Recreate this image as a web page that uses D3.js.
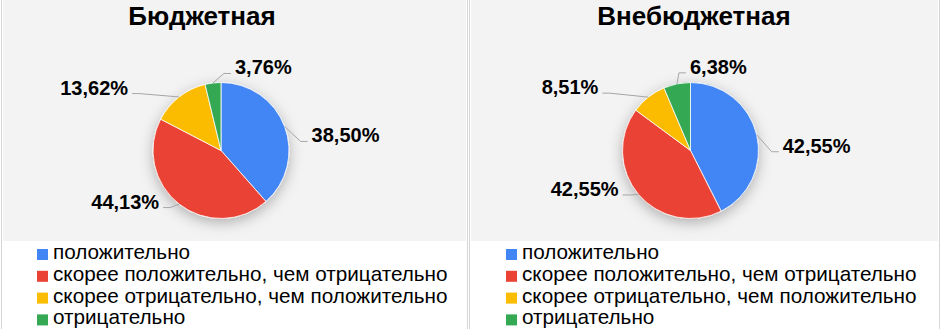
<!DOCTYPE html>
<html>
<head>
<meta charset="utf-8">
<script src="https://cdn.jsdelivr.net/npm/d3@7"></script>
<style>
  html, body { margin: 0; padding: 0; background: #ffffff; }
  svg { display: block; font-family: "Liberation Sans", Arial, sans-serif; }
</style>
</head>
<body>
<svg id="chart" width="941" height="329"></svg>
<script>
// ---- data ----
const categories = [
  "положительно",
  "скорее положительно, чем отрицательно",
  "скорее отрицательно, чем положительно",
  "отрицательно"
];
const titles = ["Бюджетная", "Внебюджетная"];
const budgetValues = [38.50, 44.13, 13.62, 3.76];
const extraBudgetValues = [42.55, 42.55, 8.51, 6.38];
const seriesValues = [budgetValues, extraBudgetValues];

// ---- styling / layout ----
const colors = ["#4285f4", "#ea4335", "#fbbc04", "#34a853"];
const W = 941, H = 329;
const plotBottom = 241;
const radius = 68;
const cy = 150.5;
const panels = [
  { x0: 3, x1: 466, cx: 221, titleX: 202, legendX: 37,
    // label offsets relative to slice edge point (manual Excel-style placement)
    nudges: [[27, 16], [-20, 4.5], [-51, -2.4], [22, -8.5]] },
  { x0: 471, x1: 938, cx: 690.5, titleX: 694, legendX: 506,
    nudges: [[26, 18], [-20, 1.6], [-50, -3], [13, -10]] }
];

const svg = d3.select("#chart");
const defs = svg.append("defs");
const filt = defs.append("filter").attr("id", "shadow")
  .attr("x", "-40%").attr("y", "-40%").attr("width", "180%").attr("height", "180%");
filt.append("feDropShadow").attr("dx", 0).attr("dy", 4)
  .attr("stdDeviation", 7).attr("flood-color", "#000").attr("flood-opacity", 0.28);

svg.append("rect").attr("x", 0).attr("y", 0).attr("width", W).attr("height", H).attr("fill", "#ffffff");

const fmt = v => d3.format(".2f")(v).replace(".", ",") + "%";
const pie = d3.pie().sort(null).value(d => d).startAngle(0).endAngle(2 * Math.PI);
const arc = d3.arc().innerRadius(0).outerRadius(radius);
const edgeArc = d3.arc().innerRadius(radius).outerRadius(radius);

panels.forEach((p, pi) => {
  const g = svg.append("g");
  // gray plot background
  g.append("rect").attr("x", p.x0).attr("y", 0)
    .attr("width", p.x1 - p.x0).attr("height", plotBottom)
    .attr("fill", "#f3f3f3");
  // panel border lines
  g.append("line").attr("x1", p.x0 - 1.5).attr("x2", p.x0 - 1.5).attr("y1", 0).attr("y2", H)
    .attr("stroke", "#d6d6d6").attr("stroke-width", 1);
  g.append("line").attr("x1", p.x1 + 1.5).attr("x2", p.x1 + 1.5).attr("y1", 0).attr("y2", H)
    .attr("stroke", "#d6d6d6").attr("stroke-width", 1);

  // title
  g.append("text").attr("x", p.titleX).attr("y", 25)
    .attr("text-anchor", "middle").attr("font-size", 26).attr("font-weight", "bold")
    .attr("fill", "#000").text(titles[pi]);

  const arcs = pie(seriesValues[pi]);
  const pg = g.append("g").attr("transform", `translate(${p.cx},${cy})`);
  pg.append("g").attr("filter", "url(#shadow)")
    .selectAll("path").data(arcs).join("path")
    .attr("d", arc)
    .attr("fill", (d, i) => colors[i])
    .attr("stroke", "#ffffff").attr("stroke-width", 0.8);

  // labels + leader lines
  arcs.forEach((d, i) => {
    const e = edgeArc.centroid(d);
    const lx = e[0] + p.nudges[i][0];
    const ly = e[1] + p.nudges[i][1];
    const side = lx > e[0] ? 1 : -1;
    const gap = 4, knee = 7;
    const pts = [e, [lx - side * (gap + knee), ly - 1], [lx - side * gap, ly - 1]];
    pg.append("path")
      .attr("d", d3.line()(pts))
      .attr("fill", "none").attr("stroke", "#a6a6a6").attr("stroke-width", 1);
    pg.append("text").attr("x", lx).attr("y", ly)
      .attr("text-anchor", side > 0 ? "start" : "end")
      .attr("font-size", 20).attr("font-weight", "bold").attr("fill", "#000")
      .text(fmt(d.data));
  });

  // legend
  const lg = g.append("g");
  categories.forEach((c, i) => {
    const by = 259 + i * 21.8;
    lg.append("rect").attr("x", p.legendX).attr("y", by - 10)
      .attr("width", 11).attr("height", 11).attr("fill", colors[i]);
    lg.append("text").attr("x", p.legendX + 16).attr("y", by)
      .attr("font-size", 20.7).attr("fill", "#000").text(c);
  });
});
</script>
</body>
</html>
